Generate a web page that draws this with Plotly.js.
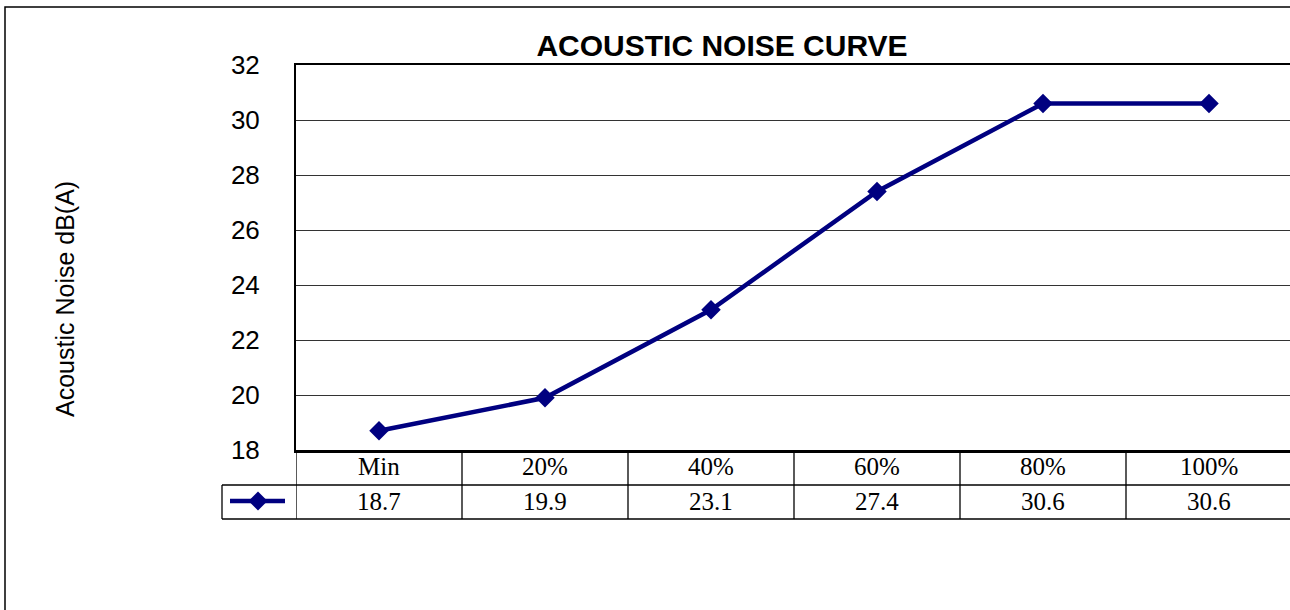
<!DOCTYPE html>
<html>
<head>
<meta charset="utf-8">
<script src="https://cdn.plot.ly/plotly-3.0.1.min.js"></script>
<style>
html,body{margin:0;padding:0;overflow:hidden;background:#fff;}
#chart{width:1300px;height:610px;}
</style>
</head>
<body>
<div id="chart"></div>
<script>
// ---- data ----
const categories = ["Min", "20%", "40%", "60%", "80%", "100%"];
const noiseValues = [18.7, 19.9, 23.1, 27.4, 30.6, 30.6];
const valueLabels = ["18.7", "19.9", "23.1", "27.4", "30.6", "30.6"];
const yTicks = [18, 20, 22, 24, 26, 28, 30, 32];

// ---- geometry helpers (pixels -> paper) ----
const W = 1300, H = 610;
const L = 296, R = 1292, T = 65, B = 450;
const pw = R - L, ph = B - T;
const px = x => (x - L) / pw;
const py = y => (B - y) / ph;

const navy = "#000080";
const serif = "'Liberation Serif', 'DejaVu Serif', serif";
const sans = "Arial, 'Liberation Sans', sans-serif";

const trace = {
  x: categories,
  y: noiseValues,
  type: "scatter",
  mode: "lines+markers",
  line: {color: navy, width: 4.5},
  marker: {symbol: "diamond", size: 15, color: navy},
  cliponaxis: false,
  showlegend: false,
  hoverinfo: "x+y"
};

const shapes = [];
const lineStyle = {color: "#000", width: 1.3};
// data table horizontal lines
shapes.push({type: "line", xref: "paper", yref: "paper", x0: px(222), x1: px(1300), y0: py(485), y1: py(485), line: lineStyle});
shapes.push({type: "line", xref: "paper", yref: "paper", x0: px(222), x1: px(1300), y0: py(519), y1: py(519), line: lineStyle});
// legend cell left edge
shapes.push({type: "line", xref: "paper", yref: "paper", x0: px(222), x1: px(222), y0: py(485), y1: py(519), line: lineStyle});
// category separators
for (let i = 0; i < categories.length; i++) {
  shapes.push({type: "line", xref: "x", yref: "paper", x0: i - 0.5, x1: i - 0.5, y0: 0, y1: py(519), line: lineStyle});
}
// legend key: line + diamond
shapes.push({type: "line", xref: "paper", yref: "paper", x0: px(230), x1: px(285), y0: py(501), y1: py(501), line: {color: navy, width: 4.5}});
const dcx = 258, dcy = 501, dr = 9.5;
shapes.push({type: "path", xref: "paper", yref: "paper",
  path: `M ${px(dcx - dr)} ${py(dcy)} L ${px(dcx)} ${py(dcy - dr)} L ${px(dcx + dr)} ${py(dcy)} L ${px(dcx)} ${py(dcy + dr)} Z`,
  fillcolor: navy, line: {color: navy, width: 0}});
// outer chart border (left and top)
shapes.push({type: "path", xref: "paper", yref: "paper",
  path: `M ${px(5)} ${py(620)} L ${px(5)} ${py(7)} L ${px(1310)} ${py(7)}`,
  line: {color: "#000", width: 1.5}});

const annotations = [];
// category row and value row of the data table
for (let i = 0; i < categories.length; i++) {
  annotations.push({x: categories[i], y: py(466), xref: "x", yref: "paper",
    text: categories[i], showarrow: false, xanchor: "center", yanchor: "middle",
    font: {family: serif, size: 25, color: "#000"}});
  annotations.push({x: categories[i], y: py(501), xref: "x", yref: "paper",
    text: valueLabels[i], showarrow: false, xanchor: "center", yanchor: "middle",
    font: {family: serif, size: 25, color: "#000"}});
}
// y-axis title
annotations.push({x: px(65), y: py(299), xref: "paper", yref: "paper",
  text: "Acoustic Noise dB(A)", textangle: -90, showarrow: false,
  xanchor: "center", yanchor: "middle",
  font: {family: sans, size: 25, color: "#000"}});

const layout = {
  width: W, height: H,
  margin: {l: L, r: W - R, t: T, b: H - B, pad: 0},
  paper_bgcolor: "#fff",
  plot_bgcolor: "#fff",
  title: {text: "<b>ACOUSTIC NOISE CURVE</b>", xref: "container", yref: "container",
    x: 722 / W, y: 1 - 45 / H, xanchor: "center", yanchor: "middle",
    font: {family: sans, size: 30, color: "#000"}},
  xaxis: {
    type: "category",
    categoryorder: "array",
    categoryarray: categories,
    range: [-0.5, categories.length - 0.5],
    showgrid: false,
    zeroline: false,
    showline: true, linecolor: "#000", linewidth: 2.5, mirror: true,
    ticks: "",
    showticklabels: false,
    fixedrange: true
  },
  yaxis: {
    range: [18, 32],
    tickvals: yTicks,
    ticktext: yTicks.map(String),
    showgrid: true, gridcolor: "#333", gridwidth: 1,
    zeroline: false,
    showline: true, linecolor: "#000", linewidth: 2, mirror: true,
    ticks: "",
    ticklabelstandoff: 29,
    tickfont: {family: sans, size: 26, color: "#000"},
    fixedrange: true
  },
  shapes: shapes,
  annotations: annotations,
  showlegend: false
};

Plotly.newPlot("chart", [trace], layout, {displayModeBar: false, staticPlot: true});
</script>
</body>
</html>
